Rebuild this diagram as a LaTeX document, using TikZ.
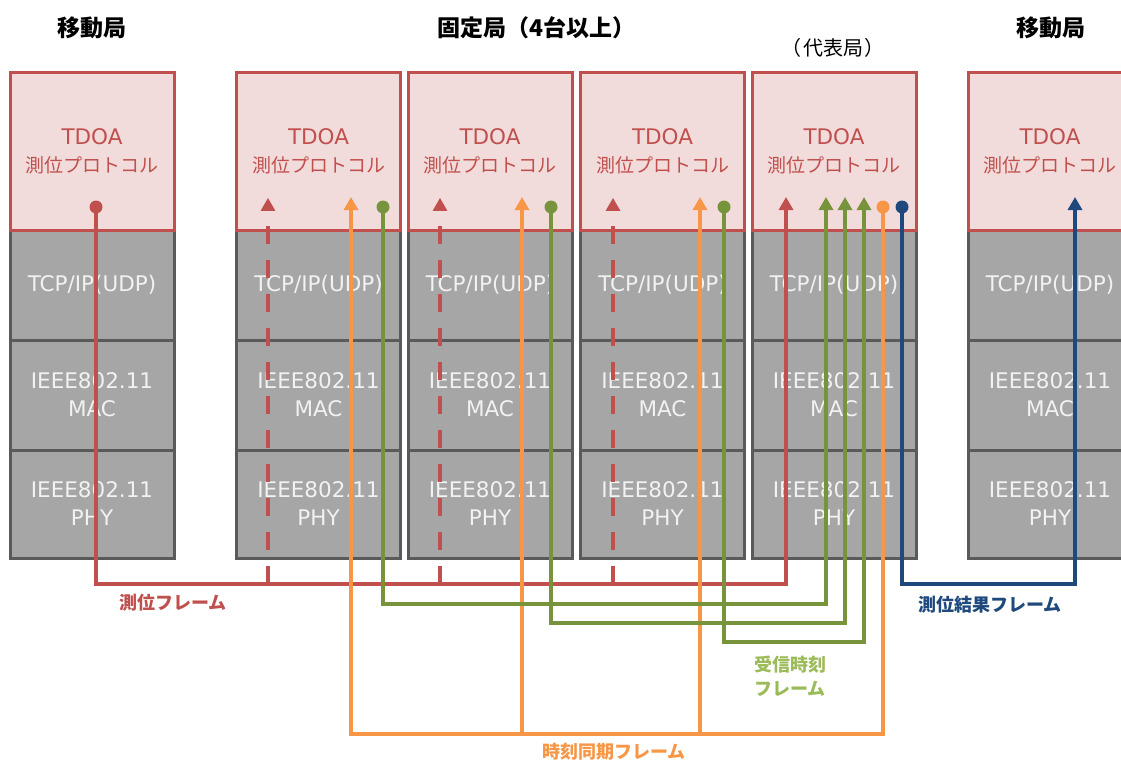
\documentclass[tikz,border=0pt]{standalone}
\usepackage{fontspec}
\setmainfont{DejaVu Sans}
\newfontfamily\jp{Noto Sans CJK JP}
\usetikzlibrary{arrows.meta,shapes.geometric}
\definecolor{cred}{HTML}{C0504D}
\definecolor{cpink}{HTML}{F2DCDB}
\definecolor{cgray}{HTML}{A6A6A6}
\definecolor{cdgray}{HTML}{5A5A5A}
\definecolor{corange}{HTML}{F79646}
\definecolor{cgreen}{HTML}{77933C}
\definecolor{clgreen}{HTML}{9BBB59}
\definecolor{cblue}{HTML}{1F497D}
\definecolor{cwhite}{HTML}{F2F2F2}
\begin{document}
\begin{tikzpicture}[x=1pt,y=-1pt,
  proto/.style={draw=cred, fill=cpink, line width=3pt, minimum width=164pt, minimum height=158pt,
    inner sep=0pt, align=center, text=cred, font=\fontsize{21.5}{28}\selectfont},
  layer/.style={draw=cdgray, fill=cgray, line width=3pt, minimum width=164pt, minimum height=110pt,
    inner sep=0pt, align=center, text=cwhite, font=\fontsize{21.5}{28}\selectfont},
  head/.style={font=\jp\bfseries\fontsize{23}{26}\selectfont, inner sep=0pt},
  sub/.style={font=\jp\fontsize{20}{22}\selectfont, inner sep=0pt},
  lab/.style={font=\jp\bfseries\fontsize{18}{24}\selectfont, inner sep=0pt, align=center},
  conn/.style={line width=4pt},
  tip/.style={-{Triangle[width=14pt,length=13pt]}},
  tri/.style={regular polygon, regular polygon sides=3, minimum size=17pt, inner sep=0pt, fill=cred}
]
\useasboundingbox (0,0) rectangle (1121,763);

% headings
\node[head] (h1) at (92,28) {移動局};
\node[head] (h2) at (536,28) {固定局（4台以上）};
\node[sub]  (h3) at (833,48) {（\kern1.5pt 代表局\kern1.5pt ）};
\node[head] (h4) at (1051,28) {移動局};

% stacks
\foreach \i/\x in {1/92,2/318.5,3/490,4/662.5,5/834,6/1050} {
  \node[layer] (tcp\i) at (\x,285) {TCP/IP(UDP)};
  \node[layer] (mac\i) at (\x,395) {IEEE802.11\\MAC};
  \node[layer, minimum height=108pt] (phy\i) at (\x,504) {IEEE802.11\\PHY};
  \node[proto] (td\i) at (\x,151) {TDOA\\{\jp\fontsize{19}{28}\selectfont 測位プロトコル}};
}

% buses
\coordinate (busR) at (0,584);
\coordinate (busG1) at (0,604);
\coordinate (busG2) at (0,623);
\coordinate (busG3) at (0,642);
\coordinate (busO) at (0,734);

% ports
\coordinate (r1) at (96,207);
\coordinate (r5) at (786,197);
\coordinate (r2d) at (268,225);
\coordinate (r3d) at (440,225);
\coordinate (r4d) at (613,225);
\node[tri] (r2) at (268,206.5) {};
\node[tri] (r3) at (440,206.5) {};
\node[tri] (r4) at (613,206.5) {};
\coordinate (o2) at (351,197);
\coordinate (o3) at (522,197);
\coordinate (o4) at (700,197);
\coordinate (o5) at (883,207);
\coordinate (g2) at (383,207);
\coordinate (g3) at (551,207);
\coordinate (g4) at (724,207);
\coordinate (g5a) at (826,197);
\coordinate (g5b) at (845,197);
\coordinate (g5c) at (864,197);
\coordinate (b5) at (902,207);
\coordinate (b6) at (1075,197);

% red: positioning frame
\draw[conn, cred, tip] (r1) -- (r1 |- busR) -| (r5);
\foreach \d in {r2d,r3d,r4d}
  \draw[conn, cred, dash pattern=on 18pt off 16pt] (\d |- busR) -- (\d);

% orange: time sync frame
\draw[conn, corange, tip] (o5) -- (o5 |- busO) -| (o2);
\draw[conn, corange, tip] (o3 |- busO) -- (o3);
\draw[conn, corange, tip] (o4 |- busO) -- (o4);

% green: reception time frames
\draw[conn, cgreen, tip] (g2) -- (g2 |- busG1) -| (g5a);
\draw[conn, cgreen, tip] (g3) -- (g3 |- busG2) -| (g5b);
\draw[conn, cgreen, tip] (g4) -- (g4 |- busG3) -| (g5c);

% blue: result frame
\draw[conn, cblue, tip] (b5) -- (b5 |- busR) -| (b6);

% dots
\fill[cred] (r1) circle (6.5);
\fill[cgreen] (g2) circle (6.5);
\fill[cgreen] (g3) circle (6.5);
\fill[cgreen] (g4) circle (6.5);
\fill[corange] (o5) circle (6.5);
\fill[cblue] (b5) circle (6.5);

% labels
\node[lab, text=cred] (l1) at (173,603) {測位フレーム};
\node[lab, text=cblue] (l2) at (990,605) {測位結果フレーム};
\node[lab, text=clgreen] (l3) at (790,676) {受信時刻\\フレーム};
\node[lab, text=corange] (l4) at (614,752) {時刻同期フレーム};
\end{tikzpicture}
\end{document}
